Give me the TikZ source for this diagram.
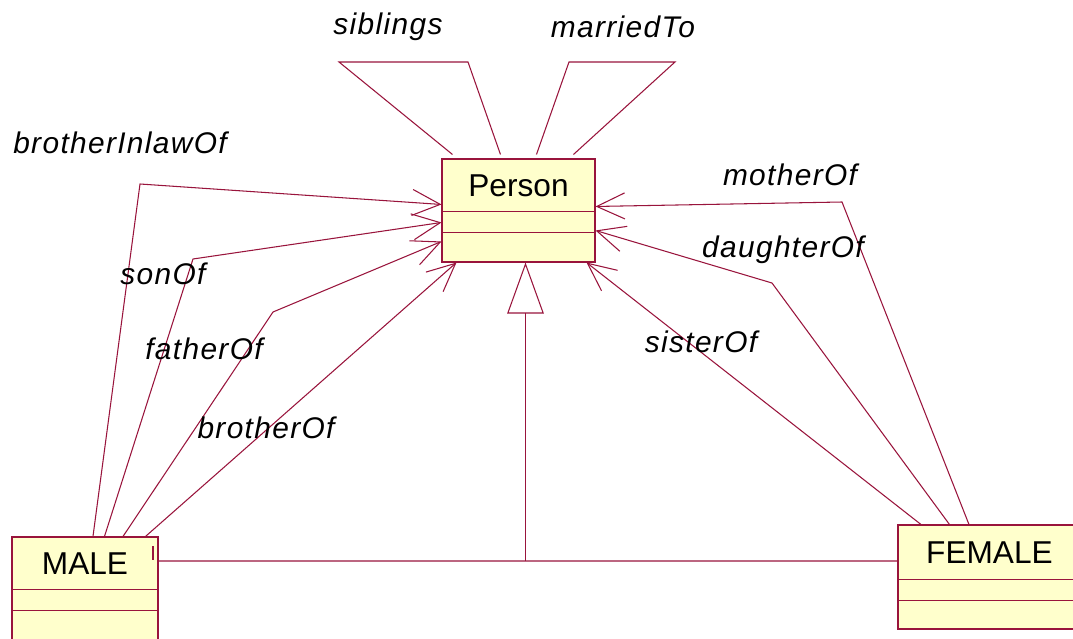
\documentclass[tikz,border=0pt]{standalone}
\usepackage{fontspec}
\setmainfont{Liberation Sans}
\newfontfamily\rolefont[LetterSpace=4.5]{Liberation Sans}
\usetikzlibrary{arrows.meta,positioning}
\definecolor{umlline}{RGB}{153,20,60}
\definecolor{umlfill}{RGB}{255,255,204}

\begin{document}
\begin{tikzpicture}[
  x=0.02cm, y=-0.02cm,
  classbox/.style={draw=umlline,fill=umlfill,line width=0.6pt,inner sep=0pt},
  classname/.style={font=\fontsize{18}{20}\selectfont,minimum height=1.06cm,inner sep=0pt},
  assoc/.style={draw=umlline,line width=0.6pt},
  navarrow/.style={assoc,-{Straight Barb[length=0.56cm,width=0.52cm]}},
  rolename/.style={font=\rolefont\itshape\fontsize{17}{20}\selectfont,inner sep=0pt}
]
  \clip (0,0) rectangle (1073,639);
  \fill[white] (0,0) rectangle (1073,639);
  % Classes
  \node[classbox,minimum width=3.06cm,minimum height=2.06cm] (person) at (518.5,210.5) {};
  \node[classbox,minimum width=2.92cm,minimum height=2.46cm] (male) at (85,598.5) {};
  \node[classbox,minimum width=3.66cm,minimum height=2.08cm] (female) at (989.5,577) {};
  \node[classname,below=0pt of person.north] (person-name) {Person};
  \node[classname,below=0pt of male.north] (male-name) {MALE};
  \node[classname,below=0pt of female.north,minimum height=1.1cm] (female-name) {FEMALE};
  % Compartments
  \draw[assoc] ([yshift=-1.06cm]person.north west) -- ([yshift=-1.06cm]person.north east);
  \draw[assoc] ([yshift=-1.48cm]person.north west) -- ([yshift=-1.48cm]person.north east);
  \draw[assoc] ([yshift=-1.06cm]male.north west) -- ([yshift=-1.06cm]male.north east);
  \draw[assoc] ([yshift=-1.48cm]male.north west) -- ([yshift=-1.48cm]male.north east);
  \draw[assoc] ([yshift=-1.1cm]female.north west) -- ([yshift=-1.1cm]female.north east);
  \draw[assoc] ([yshift=-1.52cm]female.north west) -- ([yshift=-1.52cm]female.north east);
  \draw[assoc] ([xshift=-0.11cm,yshift=-0.2cm]male.north east) -- ([xshift=-0.11cm,yshift=-0.48cm]male.north east);
  % Generalization
  \coordinate (maleport) at ([yshift=-0.49cm]male.north east);
  \coordinate (femaleport) at ([yshift=-0.73cm]female.north west);
  \coordinate (gen) at ([xshift=0.14cm]person.south);
  \draw[assoc] (maleport) -- (femaleport);
  \draw[assoc,-{Triangle[open,length=1.02cm,width=0.73cm]}] (gen |- maleport) -- (gen);
  % Self associations
  \draw[assoc] ([xshift=0.22cm,yshift=0.08cm]person.north west) -- (339,62) -- (468,62)
    -- ([xshift=1.18cm,yshift=0.08cm]person.north west);
  \draw[assoc] ([xshift=1.9cm,yshift=0.08cm]person.north west) -- (569,62) -- (675,62)
    -- ([xshift=2.64cm,yshift=0.08cm]person.north west);
  % MALE -> Person
  \draw[navarrow] ([xshift=1.63cm]male.north west) -- (140,184) -- ([yshift=-0.92cm]person.north west);
  \draw[navarrow] ([xshift=1.86cm]male.north west) -- (193,259) -- ([yshift=-1.28cm]person.north west);
  \draw[navarrow] ([xshift=2.23cm]male.north west) -- (273,312) -- ([yshift=-1.66cm]person.north west);
  \draw[navarrow] ([xshift=2.68cm]male.north west) -- ([xshift=0.3cm]person.south west);
  % FEMALE -> Person
  \draw[navarrow] ([xshift=1.43cm]female.north west) -- (842,202) -- ([yshift=-0.96cm]person.north east);
  \draw[navarrow] ([xshift=1.04cm]female.north west) -- (772,283) -- ([yshift=-1.44cm]person.north east);
  \draw[navarrow] ([xshift=0.47cm]female.north west) -- ([xshift=-0.18cm]person.south east);
  % Role names
  \node[rolename] (siblings) at (388,27) {siblings};
  \node[rolename] (marriedto) at (623,27) {marriedTo};
  \node[rolename] (brotherinlaw) at (120,143) {brotherInlawOf};
  \node[rolename] (sonof) at (163,274) {sonOf};
  \node[rolename] (fatherof) at (204,349) {fatherOf};
  \node[rolename] (brotherof) at (266,428) {brotherOf};
  \node[rolename] (motherof) at (790,175) {motherOf};
  \node[rolename] (daughterof) at (783,250) {daughterOf};
  \node[rolename] (sisterof) at (701,342) {sisterOf};
\end{tikzpicture}
\end{document}
